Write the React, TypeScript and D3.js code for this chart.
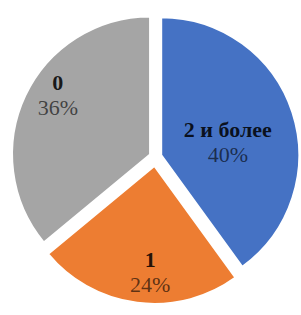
import React from 'react';
import * as d3 from 'd3';

// number of children in family -> share of respondents, %
const categories = ['2 и более', '1', '0'];
const shares = [40, 24, 36];
const percentLabels = ['40%', '24%', '36%'];
const sliceColors = ['#4472C4', '#ED7D31', '#A5A5A5'];

// layout only: how far each slice is pulled out, and where its label sits
const explode = [6, 9, 6];
const labelRadius = [0.49, 0.78, 0.79];
const labelShift = [8, -5, 7];

const W = 301, H = 315;
const cx = 155.5, cy = 157;
const R = 138;

export default function App() {
  const pie = d3.pie<number>().sort(null).value((d) => d)(shares);
  const arc = d3.arc<d3.PieArcDatum<number>>().innerRadius(0).outerRadius(R);
  const font = "'Liberation Serif', 'Times New Roman', serif";

  return (
    <div style={{ position: 'absolute', left: 0, top: 0 }}>
      <svg width={W} height={H} style={{ display: 'block', background: '#fff' }}>
        <defs>
          <filter id="soft" x="-5%" y="-5%" width="110%" height="110%">
            <feGaussianBlur stdDeviation="0.6" />
          </filter>
        </defs>
        <g transform={`translate(${cx},${cy})`}>
          {pie.map((p, i) => {
            const mid = (p.startAngle + p.endAngle) / 2;
            const dx = Math.sin(mid) * explode[i];
            const dy = -Math.cos(mid) * explode[i];
            const la = mid + (labelShift[i] * Math.PI) / 180;
            const lr = labelRadius[i] * R;
            const lx = dx + Math.sin(la) * lr;
            const ly = dy - Math.cos(la) * lr;
            return (
              <g key={categories[i]}>
                <path
                  d={arc(p) || ''}
                  transform={`translate(${dx},${dy})`}
                  fill={sliceColors[i]}
                  stroke="#fff"
                  strokeWidth={2}
                  filter="url(#soft)"
                />
                <text x={lx} y={ly - 6} textAnchor="middle" fontFamily={font}
                  fontSize={22} fontWeight="bold" fill="#000" fillOpacity={0.85}>
                  {categories[i]}
                </text>
                <text x={lx} y={ly + 19} textAnchor="middle" fontFamily={font}
                  fontSize={22} fill="#000" fillOpacity={0.62}>
                  {percentLabels[i]}
                </text>
              </g>
            );
          })}
        </g>
      </svg>
    </div>
  );
}
